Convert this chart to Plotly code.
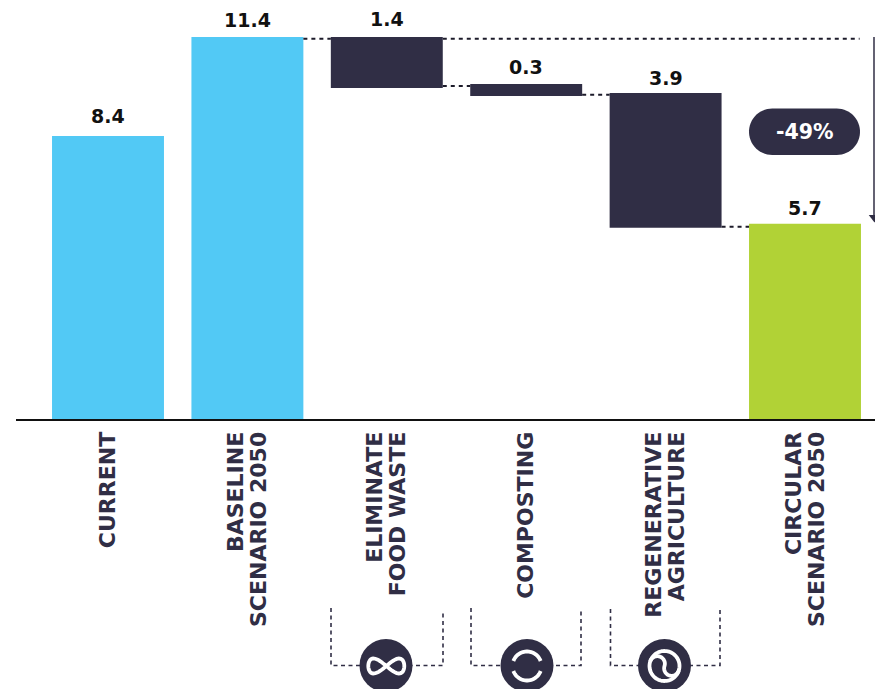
import numpy as np
import plotly.graph_objects as go

category_lines = [["CURRENT"], ["BASELINE", "SCENARIO 2050"], ["ELIMINATE", "FOOD WASTE"], ["COMPOSTING"],
                  ["REGENERATIVE", "AGRICULTURE"], ["CIRCULAR", "SCENARIO 2050"]]
bar_labels = ["8.4", "11.4", "1.4", "0.3", "3.9", "5.7"]
bar_bottoms = [0, 0, 9.88, 9.64, 5.71, 0]
bar_tops = [8.45, 11.4, 11.4, 10.0, 9.73, 5.83]
bar_colors = ["#52c9f5", "#52c9f5", "#302e45", "#302e45", "#302e45", "#b1d236"]
connector_levels = [11.35, 9.94, 9.68, 5.74]
pill_label = "-49%"
label_gaps = [20, 17, 18, 17, 15, 16]

NAVY = "#302e45"
W, H = 875, 689
AX_L = 16.0
X0, XSTEP = 108.0, 139.4
AXIS_Y = 419.0
PX_PER_UNIT = 33.5
xr = [(AX_L - X0) / XSTEP, (W - X0) / XSTEP]
yr = [0, AXIS_Y / PX_PER_UNIT]
def dx(p): return (p - X0) / XSTEP
def dy(p): return (AXIS_Y - p) / PX_PER_UNIT
def px(x): return x / W
def py(y): return 1 - y / H

fig = go.Figure()
x_idx = list(range(len(category_lines)))
heights = [t - b for t, b in zip(bar_tops, bar_bottoms)]
fig.add_trace(go.Bar(
    x=x_idx, y=heights, base=bar_bottoms, width=0.803,
    marker=dict(color=bar_colors, line=dict(width=0)),
    hoverinfo="skip", showlegend=False))

half = 0.4015
segs = [
    (1 + half, 2 - half, connector_levels[0]),
    (2 + half, 5 + half - 0.01, connector_levels[0]),
    (2 + half, 3 - half, connector_levels[1]),
    (3 + half, 4 - half, connector_levels[2]),
    (4 + half, 5 - half, connector_levels[3]),
]
for a, b, lev in segs:
    fig.add_trace(go.Scatter(x=[a, b], y=[lev, lev], mode="lines",
                             line=dict(color="#1c1b2a", width=2, dash="4px,4px"),
                             hoverinfo="skip", showlegend=False))

fig.add_trace(go.Scatter(x=[dx(874), dx(874)], y=[dy(37), dy(216)], mode="lines",
                         line=dict(color=NAVY, width=1.5), hoverinfo="skip", showlegend=False, cliponaxis=False))
fig.add_trace(go.Scatter(x=[dx(874.5)], y=[dy(217.5)], mode="markers",
                         marker=dict(symbol="triangle-down", size=10, color=NAVY),
                         hoverinfo="skip", showlegend=False, cliponaxis=False))

shapes = []
def poly(points, **kw):
    d = "M " + " L ".join(f"{px(a):.5f},{py(b):.5f}" for a, b in points)
    if kw.pop("closed", False):
        d += " Z"
    shapes.append(dict(type="path", xref="paper", yref="paper", path=d, **kw))

L, R, T, B = 749, 860, 108.5, 155
r = (B - T) / 2
th = np.linspace(-np.pi / 2, np.pi / 2, 30)
pts = [(R - r + r * np.cos(t), (T + B) / 2 + r * np.sin(t)) for t in th] + \
      [(L + r - r * np.cos(t), (T + B) / 2 - r * np.sin(t)) for t in th]
poly(pts, closed=True, fillcolor=NAVY, line=dict(width=0))

for l, r_, ytl, ytr in [(331, 443, 608, 613), (471, 581, 608, 611), (610.5, 720, 609, 610)]:
    poly([(l, ytl), (l, 665.5), (r_, 665.5), (r_, ytr)],
         line=dict(color=NAVY, width=1.6, dash="4px,3.5px"))

for cx in (386, 527, 664.5):
    shapes.append(dict(type="circle", xref="paper", yref="paper",
                       x0=px(cx - 26.5), x1=px(cx + 26.5), y0=py(639), y1=py(692),
                       fillcolor=NAVY, line=dict(width=0)))

clear = "rgba(0,0,0,0)"
white = dict(color="white", width=3.8)
t = np.linspace(0, 2 * np.pi, 80)
poly([(386.3 + 18 * np.cos(a), 666 + 7.5 * np.sin(2 * a)) for a in t], closed=True,
     fillcolor=clear, line=white)
for a0, a1 in [(200, 340), (20, 160)]:
    t = np.radians(np.linspace(a0, a1, 30))
    poly([(527 + 14.5 * np.cos(a), 666 + 14.5 * np.sin(a)) for a in t], fillcolor=clear, line=white)
t = np.radians(np.linspace(0, 360, 80))
poly([(664.5 + 15 * np.cos(a), 666 + 15 * np.sin(a)) for a in t], closed=True, fillcolor=clear, line=white)
# S-curve of two half circles, tilted
rs = 7.5
tilt = np.radians(18)
arc1 = [(-rs + rs * np.cos(a), rs * np.sin(a)) for a in np.radians(np.linspace(180, 360, 30))]
arc2 = [(rs + rs * np.cos(a), rs * np.sin(a)) for a in np.radians(np.linspace(180, 0, 30))]
poly([(664.5 + u * np.cos(tilt) - v * np.sin(tilt), 666 + u * np.sin(tilt) + v * np.cos(tilt))
      for u, v in arc1 + arc2], fillcolor=clear, line=white)

annotations = [dict(xref="paper", yref="paper", x=px(804.5), y=py(132), text=pill_label, showarrow=False,
                    xanchor="center", yanchor="middle",
                    font=dict(family="DejaVu Sans", size=20.5, color="white", weight=700))]
for i, (lab, top, gap) in enumerate(zip(bar_labels, bar_tops, label_gaps)):
    annotations.append(dict(x=i, y=top, text=lab, showarrow=False, xanchor="center", yanchor="middle",
                            yshift=gap, font=dict(family="DejaVu Sans", size=19, color="#111111", weight=700)))

LINE_OFFSET = 11.5 / XSTEP
tickvals, ticktext = [], []
for i, lines in enumerate(category_lines):
    if len(lines) == 1:
        tickvals.append(i); ticktext.append(lines[0])
    else:
        tickvals += [i - LINE_OFFSET, i + LINE_OFFSET]; ticktext += lines

fig.update_layout(
    width=W, height=H, margin=dict(l=0, r=0, t=0, b=0),
    paper_bgcolor="white", plot_bgcolor="white", showlegend=False,
    shapes=shapes, annotations=annotations,
    xaxis=dict(range=xr, domain=[AX_L / W, 1], tickmode="array", tickvals=tickvals, ticktext=ticktext,
               tickangle=-90, ticks="outside", ticklen=2, tickcolor="rgba(0,0,0,0)", showgrid=False,
               zeroline=False, showline=True, linecolor="#111111", linewidth=2,
               tickfont=dict(family="DejaVu Sans", size=22, color=NAVY, weight=700)),
    yaxis=dict(range=yr, domain=[(H - AXIS_Y) / H, 1], visible=False, showgrid=False, zeroline=False),
)
fig.write_html("out.html", config=dict(displayModeBar=False),
               post_script="document.body.style.margin='0';")
